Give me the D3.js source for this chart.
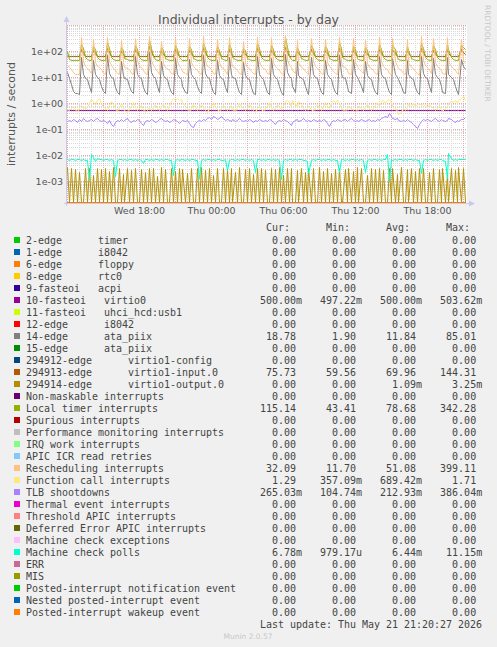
<!DOCTYPE html>
<html><head><meta charset="utf-8">
<script src="https://cdn.jsdelivr.net/npm/d3@7"></script>
<style>body{margin:0;background:#f0f0f0}svg{display:block}</style>
</head><body><svg id="c" width="497" height="647"></svg>
<script>
// ---------------- DATA ----------------
const startTime = new Date(2026, 4, 20, 12, 0, 0);   // Wed 12:00
const endTime = new Date(2026, 4, 21, 21, 20, 0);    // Thu 21:20
const stepMinutes = 10;

const xTickLabels = ["Wed 18:00", "Thu 00:00", "Thu 06:00", "Thu 12:00", "Thu 18:00"];
const xTickTimes = [new Date(2026,4,20,18), new Date(2026,4,21,0), new Date(2026,4,21,6), new Date(2026,4,21,12), new Date(2026,4,21,18)];
const yTickValues = [100, 10, 1, 0.1, 0.01, 0.001];
const yTickLabels = ["1e+02", "1e+01", "1e+00", "1e-01", "1e-02", "1e-03"];

const seriesNames = [
 "2-edge      timer","1-edge      i8042","6-edge      floppy","8-edge      rtc0","9-fasteoi   acpi",
 "10-fasteoi   virtio0","11-fasteoi   uhci_hcd:usb1","12-edge      i8042","14-edge      ata_piix","15-edge      ata_piix",
 "294912-edge      virtio1-config","294913-edge      virtio1-input.0","294914-edge      virtio1-output.0",
 "Non-maskable interrupts","Local timer interrupts","Spurious interrupts","Performance monitoring interrupts",
 "IRQ work interrupts","APIC ICR read retries","Rescheduling interrupts","Function call interrupts","TLB shootdowns",
 "Thermal event interrupts","Threshold APIC interrupts","Deferred Error APIC interrupts","Machine check exceptions",
 "Machine check polls","ERR","MIS","Posted-interrupt notification event","Nested posted-interrupt event","Posted-interrupt wakeup event"];
const seriesColors = ["#00CC00","#0066B3","#FF8000","#FFCC00","#330099","#990099","#CCFF00","#FF0000","#808080","#008F00",
 "#00487D","#B35A00","#B38F00","#6B006B","#8FB300","#B30000","#BEBEBE","#80FF80","#80C9FF","#FFC080","#FFE680","#AA80FF",
 "#EE00CC","#FF8080","#666600","#FFBFFF","#00FFCC","#CC6699","#999900","#00CC00","#0066B3","#FF8000"];
const curVals = ["0.00","0.00","0.00","0.00","0.00","500.00m","0.00","0.00","18.78","0.00","0.00","75.73","0.00","0.00","115.14","0.00","0.00","0.00","0.00","32.09","1.29","265.03m","0.00","0.00","0.00","0.00","6.78m","0.00","0.00","0.00","0.00","0.00"];
const minVals = ["0.00","0.00","0.00","0.00","0.00","497.22m","0.00","0.00","1.90","0.00","0.00","59.56","0.00","0.00","43.41","0.00","0.00","0.00","0.00","11.70","357.09m","104.74m","0.00","0.00","0.00","0.00","979.17u","0.00","0.00","0.00","0.00","0.00"];
const avgVals = ["0.00","0.00","0.00","0.00","0.00","500.00m","0.00","0.00","11.84","0.00","0.00","69.96","1.09m","0.00","78.68","0.00","0.00","0.00","0.00","51.08","689.42m","212.93m","0.00","0.00","0.00","0.00","6.44m","0.00","0.00","0.00","0.00","0.00"];
const maxVals = ["0.00","0.00","0.00","0.00","0.00","503.62m","0.00","0.00","85.01","0.00","0.00","144.31","3.25m","0.00","342.28","0.00","0.00","0.00","0.00","399.11","1.71","386.04m","0.00","0.00","0.00","0.00","11.15m","0.00","0.00","0.00","0.00","0.00"];

// series samples, one every 10 minutes from Wed 12:00 (200 samples)
const zeroSeries = [
 0,0,0,0,0,0,0,0,0,0,0,0,0,0,0,0,0,0,0,0, 0,0,0,0,0,0,0,0,0,0,0,0,0,0,0,0,0,0,0,0,
 0,0,0,0,0,0,0,0,0,0,0,0,0,0,0,0,0,0,0,0, 0,0,0,0,0,0,0,0,0,0,0,0,0,0,0,0,0,0,0,0,
 0,0,0,0,0,0,0,0,0,0,0,0,0,0,0,0,0,0,0,0, 0,0,0,0,0,0,0,0,0,0,0,0,0,0,0,0,0,0,0,0,
 0,0,0,0,0,0,0,0,0,0,0,0,0,0,0,0,0,0,0,0, 0,0,0,0,0,0,0,0,0,0,0,0,0,0,0,0,0,0,0,0,
 0,0,0,0,0,0,0,0,0,0,0,0,0,0,0,0,0,0,0,0, 0,0,0,0,0,0,0,0,0,0,0,0,0,0,0,0,0,0,0,0];
const virtio0Vals = [
 0.5,0.5,0.5,0.5,0.5,0.5,0.5,0.5,0.5,0.5,0.5,0.5,0.5,0.5,0.5,0.5,0.5,0.5,0.5,0.5,
 0.5,0.5,0.5,0.5,0.5,0.5,0.5,0.5,0.5,0.5,0.5,0.5,0.5,0.5,0.5,0.5,0.5,0.5,0.5,0.5,
 0.5,0.5,0.5,0.5,0.5,0.4972,0.5,0.5,0.5,0.5,0.5,0.5,0.5,0.5,0.5,0.5,0.5,0.5,0.5,0.5,
 0.5,0.5,0.5,0.5,0.5,0.5,0.5,0.5,0.5,0.5,0.5,0.5,0.5,0.5,0.5,0.5,0.5,0.5,0.5,0.5,
 0.5,0.5,0.5,0.5,0.5,0.5,0.5,0.5,0.5,0.5,0.5,0.5,0.5,0.5,0.5,0.5,0.5,0.5,0.5,0.5,
 0.5,0.5,0.5,0.5,0.5,0.5,0.5,0.5,0.5,0.5,0.5,0.5,0.5,0.5,0.5,0.5,0.5,0.5,0.5,0.5,
 0.5,0.5,0.5,0.5,0.5,0.5,0.5,0.5,0.5,0.5,0.5,0.5,0.5036,0.5,0.5,0.5,0.5,0.5,0.5,0.5,
 0.5,0.5,0.5,0.5,0.5,0.5,0.5,0.5,0.5,0.5,0.5,0.5,0.5,0.5,0.5,0.5,0.5,0.5,0.5,0.5,
 0.5,0.5,0.5,0.5,0.5,0.5,0.5,0.5,0.5,0.5,0.5,0.5,0.5,0.5,0.5,0.5,0.5,0.5,0.5,0.5,
 0.5,0.5,0.5,0.5,0.5,0.5,0.5,0.5,0.5,0.5,0.5,0.5,0.5,0.5,0.5,0.5,0.5,0.5,0.5,0.5];
const ataPiixVals = [
 15,9,5,2.8,2.4,2.3,2.2,55,13,9,8,4.2,2.6,45,12,9.5,8.2,4.5,2.7,2.3,
 70,14,9.8,8.4,4,2.6,2.2,40,11,9,8.1,4.4,2.7,2.3,60,13,9.6,8.5,4.1,2.5,
 2.2,85.01,15,10,8.6,4.3,2.6,38,11,8.8,8,4,2.5,2.2,52,12,9.4,8.3,4.2,2.6,
 2.3,48,12,9.2,8.2,4.4,2.7,2.3,65,14,9.7,8.5,4.5,2.6,2.2,42,11,9.1,8,4.1,
 2.5,58,13,9.5,8.4,4.3,2.6,2.1,36,11,8.9,8,4,2.4,2.1,62,13,9.6,8.3,4.4,
 2.6,2.2,50,12,9.3,8.2,4.2,2.5,1.9,75,15,10,8.6,4.5,2.6,40,11,9,8.1,4.2,
 2.5,2.2,55,13,9.5,8.4,4.3,2.6,2.2,45,12,9.2,8.2,4.1,2.5,2.1,68,14,9.8,8.5,
 4.4,2.7,2.3,47,12,9.3,8.2,4.2,2.5,38,11,8.9,8,4.1,2.5,2.2,60,13,9.5,8.4,
 4.3,2.6,2.2,52,12,9.4,8.3,4.2,2.6,2.3,44,12,9.1,8.1,4.1,2.5,2.1,63,14,9.7,
 8.5,4.4,2.6,50,12,9.3,8.2,4.2,2.6,2.3,57,13,9.5,8.3,4.3,2.6,2.2,48,25,18.78];
const virtioInputVals = [
 63,60.2,60,59.8,60.1,59.9,60,115,82,62,60.3,60,59.8,100,78,61.5,60.2,60,59.9,59.7,
 130,88,63,60.4,60,59.8,60,95,75,61,60.2,60,59.9,59.6,110,80,62,60.3,60,59.8,
 59.7,144.31,92,64,60.5,60.1,59.9,98,76,61.4,60.2,60,59.8,59.56,112,81,62,60.3,60.1,59.9,
 59.8,105,79,61.8,60.2,60,59.8,59.7,125,86,63,60.4,60.1,59.9,59.8,100,77,61.5,60.2,60,
 59.8,115,82,62.3,60.3,60,59.9,59.7,96,75,61.2,60.2,60,59.8,59.6,120,84,62.5,60.4,60.1,
 59.9,59.7,108,80,62,60.3,60,59.8,59.7,135,90,64,60.6,60.2,59.9,99,77,61.4,60.2,60,
 59.8,59.6,112,81,62,60.3,60.1,59.9,59.7,104,78,61.6,60.2,60,59.8,59.6,128,87,63,60.5,
 60.1,59.9,59.7,106,79,61.8,60.2,60,59.8,97,76,61.3,60.2,60,59.8,59.6,118,83,62.4,60.3,
 60.1,59.9,59.7,110,80,62,60.3,60,59.8,59.7,102,78,61.5,60.2,60,59.8,59.6,122,85,62.6,
 60.4,60.1,59.9,108,80,62,60.3,60,59.8,59.7,114,82,62.2,60.3,60,59.8,59.7,111,90,75.73];
const virtioOutputMilli = [
 3.2,0,3.0,0,2.8,0,2.2,0,0,3.1,0,2.9,0,1.6,0,3.1,0,2.7,0,3.0,
 0,2.4,0,3.25,0,0,2.9,0,1.8,0,3.0,0,2.6,0,3.1,0,0,2.8,0,2.2,
 0,3.0,0,2.9,0,1.5,0,3.2,0,2.7,0,0,3.0,0,2.4,0,3.1,0,2.8,0,
 1.9,0,3.0,0,0,2.9,0,3.2,0,2.5,0,3.0,0,1.7,0,2.9,0,0,3.1,0,
 2.8,0,3.0,0,2.2,0,3.2,0,0,2.7,0,3.0,0,1.8,0,2.9,0,3.1,0,2.5,
 0,0,3.0,0,2.8,0,3.2,0,1.6,0,2.9,0,3.0,0,0,2.6,0,3.1,0,2.2,
 0,3.0,0,2.9,0,0,3.2,0,2.4,0,3.0,0,1.9,0,2.8,0,3.1,0,0,2.7,
 0,3.0,0,2.3,0,3.2,0,2.9,0,0,1.7,0,3.0,0,2.8,0,3.1,0,2.5,0,
 0,2.9,0,3.0,0,1.8,0,3.2,0,0,2.7,0,3.0,0,2.4,0,3.1,0,2.9,0,
 0,2.2,0,3.0,0,0,2.8,0,3.1,0,1.9,0,3.0,0,2.6,0,3.2,0,2.9,0];
const localTimerVals = [
 95,48,45,44,44.2,43.8,44,180,120,56,46,44.5,44,150,110,54,46,44.3,44,43.6,
 210,125,58,47,44.5,44,43.8,140,105,52,46,44.2,44,43.7,170,118,55,46,44.3,44,
 43.8,260,130,60,47,44.6,44,135,100,51,45.5,44.2,43.9,43.5,160,115,54,46,44.4,44,
 43.7,155,112,53,46,44.3,43.9,43.6,200,122,57,47,44.5,44,43.8,145,108,52,46,44.2,
 43.9,175,118,55,46,44.4,44,43.6,130,100,51,45.5,44.2,43.9,43.5,190,120,56,46.5,44.5,
 44,43.7,165,115,54,46,44.3,44,43.41,342.28,140,62,48,44.8,44,140,104,52,46,44.2,
 44,43.6,170,117,55,46,44.4,44,43.7,150,110,53,46,44.3,44,43.6,205,124,57,47,
 44.6,44,43.7,155,112,53,46,44.3,43.9,135,100,51,45.5,44.2,43.9,43.5,180,119,55,46.5,
 44.5,44,43.7,165,114,54,46,44.3,44,43.6,150,108,52,46,44.2,43.9,43.5,195,121,56,
 47,44.5,44,160,113,54,46,44.3,44,43.7,175,116,55,46,44.3,44,43.7,170,140,115.14];
const reschedVals = [
 27,24,20,15,13,12.4,12.1,330,38,25,22,18,13.5,280,36,26,23,19,14,12.3,
 340,40,27,22,18,13.8,12.5,250,35,24,22,19,14,12.2,300,42,26,23,18,13.6,
 12.4,370,45,27,21,16,12.8,230,33,24,22,18,14,12.1,310,38,25,22,17,13.2,
 12.3,290,37,25,21,18,13.5,12.2,350,41,26,23,19,14,12.4,270,36,24,21,17,
 13,320,39,25,22,18,13.6,12.3,240,34,24,21,17,13.4,12.2,330,40,26,22,19,
 14,12.5,300,37,25,22,18,13.5,12.4,399.11,46,28,23,18,13.1,260,35,24,21,17,
 13.4,12.2,310,38,25,22,18,13.7,12.3,280,36,25,22,17,13.3,12.1,340,41,26,23,
 18,14,12.4,290,37,25,22,17,13.2,250,34,24,21,18,13.5,12.2,330,39,26,22,
 19,14,12.3,300,38,25,22,18,13.6,12.4,270,36,24,21,17,13.3,11.7,350,42,27,
 23,18,13.4,290,37,25,22,18,13.8,12.5,320,39,25,22,18,13.5,12.2,280,45,32.09];
const funcCallVals = [
 0.58,0.5,0.62,0.75,0.55,0.45,0.65,0.8,0.6,0.62,0.7,0.95,1.4,1.1,0.8,1.2,1.5,0.95,0.7,0.6,
 0.52,0.8,1.15,0.85,0.6,0.48,0.7,0.95,0.65,0.52,0.45,0.55,0.75,1.0,0.7,0.52,0.6,0.8,0.55,0.45,
 0.5,0.65,0.52,0.7,0.85,0.6,0.52,0.72,0.9,0.6,0.52,0.75,1.1,1.45,1.3,1.55,1.2,1.35,1.0,0.75,
 0.6,0.48,0.62,0.85,0.68,0.52,0.6,0.9,0.7,0.52,0.45,0.6,0.75,1.0,0.68,0.55,0.48,0.6,0.8,0.62,
 0.52,0.6,0.78,0.56,0.47,0.68,0.92,0.75,0.6,0.5,0.64,0.85,0.68,0.52,0.44,0.6,0.72,0.55,0.47,0.6,
 0.75,1.0,0.68,0.52,0.64,0.9,0.68,0.55,0.75,1.1,1.3,1.0,0.75,1.2,0.92,0.68,1.1,0.85,0.64,0.52,
 0.6,0.75,0.56,0.47,0.68,0.85,0.6,0.52,0.72,1.0,0.75,0.6,0.92,1.2,1.05,1.3,0.92,0.68,0.55,0.47,
 0.6,0.75,0.64,0.52,0.44,0.55,0.72,0.6,0.52,0.68,0.85,0.64,0.52,0.6,0.8,1.0,0.75,1.1,1.3,0.92,
 1.2,1.4,1.0,0.75,0.6,0.47,0.357,0.44,0.6,0.52,0.68,0.85,0.75,0.92,0.72,0.85,0.92,0.8,0.88,0.75,
 0.68,0.85,0.75,0.64,0.52,0.6,0.72,0.56,0.47,0.6,0.75,0.92,1.1,1.0,1.3,0.95,1.2,1.45,1.71,1.29];
const tlbVals = [
 0.19,0.22,0.2,0.24,0.21,0.18,0.23,0.2,0.25,0.22,0.19,0.21,0.24,0.2,0.23,0.26,0.21,0.19,0.22,0.2,
 0.17,0.21,0.15,0.13,0.18,0.21,0.2,0.23,0.19,0.22,0.25,0.2,0.18,0.22,0.2,0.24,0.21,0.16,0.14,0.19,
 0.22,0.2,0.24,0.21,0.18,0.2,0.23,0.26,0.22,0.19,0.21,0.18,0.2,0.23,0.21,0.19,0.17,0.2,0.22,0.19,
 0.21,0.17,0.13,0.11,0.16,0.2,0.22,0.19,0.24,0.21,0.25,0.28,0.24,0.3,0.27,0.23,0.26,0.29,0.25,0.22,
 0.24,0.21,0.19,0.23,0.2,0.22,0.25,0.21,0.19,0.22,0.2,0.24,0.21,0.18,0.22,0.2,0.23,0.21,0.19,0.22,
 0.2,0.24,0.21,0.18,0.15,0.19,0.22,0.2,0.23,0.21,0.19,0.16,0.14,0.18,0.21,0.23,0.2,0.22,0.25,0.21,
 0.19,0.22,0.2,0.24,0.21,0.19,0.22,0.2,0.23,0.21,0.16,0.13,0.18,0.22,0.2,0.24,0.22,0.19,0.21,0.23,
 0.2,0.22,0.25,0.21,0.19,0.22,0.2,0.23,0.21,0.19,0.22,0.24,0.2,0.22,0.19,0.23,0.21,0.25,0.28,0.3,
 0.27,0.386,0.29,0.26,0.23,0.25,0.21,0.19,0.22,0.2,0.23,0.21,0.18,0.15,0.12,0.105,0.15,0.2,0.23,0.21,
 0.24,0.22,0.2,0.23,0.25,0.22,0.2,0.24,0.21,0.19,0.22,0.25,0.23,0.2,0.18,0.22,0.2,0.24,0.23,0.265];
const mcPollVals = [
 0.0066,0.0064,0.0067,0.0065,0.0063,0.0066,0.0068,0.0064,0.0065,0.0062,0.0060,0.0011,0.0105,0.0080,0.0058,0.0072,0.0066,0.0069,0.0064,0.0067,
 0.0065,0.0063,0.0066,0.0061,0.00155,0.0064,0.0067,0.0065,0.0063,0.0066,0.0064,0.0067,0.0065,0.0062,0.0066,0.0064,0.0067,0.0063,0.0049,0.0065,
 0.0067,0.0064,0.0066,0.0063,0.0065,0.0068,0.0064,0.0066,0.0063,0.0065,0.0067,0.0064,0.0062,0.0017,0.0063,0.0066,0.0064,0.0067,0.0065,0.0063,
 0.0066,0.0064,0.0067,0.0065,0.0063,0.0061,0.0012,0.0064,0.0066,0.0063,0.0065,0.0067,0.0064,0.0066,0.0063,0.0065,0.0067,0.0064,0.0062,0.0066,
 0.0026,0.0064,0.0067,0.0065,0.0063,0.0066,0.0064,0.0067,0.0065,0.0063,0.0066,0.0064,0.0067,0.0062,0.0022,0.0065,0.0067,0.0064,0.0066,0.0063,
 0.0065,0.0067,0.0064,0.0066,0.0063,0.0065,0.0061,0.0011,0.0064,0.0066,0.0063,0.0065,0.0067,0.0064,0.0066,0.0063,0.0065,0.0067,0.0064,0.0062,
 0.0058,0.0020,0.0064,0.0066,0.0063,0.0065,0.0067,0.0064,0.0066,0.0063,0.0065,0.0067,0.0064,0.0066,0.0063,0.0060,0.0022,0.0065,0.0067,0.0064,
 0.0066,0.0063,0.0065,0.0067,0.0064,0.0066,0.0063,0.0065,0.0061,0.0022,0.0064,0.0066,0.0063,0.0065,0.0067,0.0064,0.0066,0.0063,0.0065,0.0067,
 0.0100,0.00098,0.0070,0.0064,0.0066,0.0063,0.0065,0.0067,0.0064,0.0066,0.0063,0.0065,0.0067,0.0064,0.0066,0.0063,0.0060,0.0020,0.0064,0.0066,
 0.0063,0.0065,0.0067,0.0064,0.0066,0.0063,0.0065,0.0067,0.0064,0.0058,0.0013,0.01115,0.0072,0.0064,0.0066,0.0063,0.0065,0.0067,0.0066,0.00678];

// ---------------- BUILD ----------------
const virtioOutputVals = virtioOutputMilli.map(v => v / 1000);
const seriesValues = [zeroSeries,zeroSeries,zeroSeries,zeroSeries,zeroSeries,virtio0Vals,zeroSeries,zeroSeries,ataPiixVals,zeroSeries,
 zeroSeries,virtioInputVals,virtioOutputVals,zeroSeries,localTimerVals,zeroSeries,zeroSeries,zeroSeries,zeroSeries,reschedVals,
 funcCallVals,tlbVals,zeroSeries,zeroSeries,zeroSeries,zeroSeries,mcPollVals,zeroSeries,zeroSeries,zeroSeries,zeroSeries,zeroSeries];

const svg = d3.select("#c");
const L = 67, R = 467, T = 25, B = 203;
const yMin = Math.pow(10, -3 - (B - 181) / 26);
const x = d3.scaleTime().domain([startTime, endTime]).range([L, R]);
const y = d3.scaleLog().domain([yMin, 1000]).range([B, T]).clamp(true);
const tAt = i => new Date(startTime.getTime() + i * stepMinutes * 60000);
const snap = v => Math.floor(v) + 0.5;   // rrdtool aligns line vertices to pixel centres

svg.append("rect").attr("x", 0).attr("y", 0).attr("width", 497).attr("height", 647).attr("fill", "#f0f0f0");
svg.append("rect").attr("x", L).attr("y", T).attr("width", R - L).attr("height", B - T).attr("fill", "#ffffff");

// grid
const grid = svg.append("g");
const minorCol = "#d8d8d8", majorCol = "#e4a8a8";
for (let k = -4; k <= 3; k++) {
  for (let m = 1; m <= 9; m++) {
    const v = m * Math.pow(10, k);
    if (v < yMin || v > 1000) continue;
    const yy = Math.round(y(v)) + 0.5;
    grid.append("line").attr("x1", L).attr("x2", R).attr("y1", yy).attr("y2", yy)
      .attr("stroke", m === 1 ? majorCol : minorCol).attr("stroke-width", 1).attr("stroke-dasharray", "1,1");
    if (k === 3) break;
  }
}
d3.timeHour.every(1).range(startTime, endTime).forEach(t => {
  const xx = Math.round(x(t)) + 0.5;
  const major = t.getHours() % 3 === 0;
  grid.append("line").attr("x1", xx).attr("x2", xx).attr("y1", T).attr("y2", B)
    .attr("stroke", major ? majorCol : minorCol).attr("stroke-width", 1).attr("stroke-dasharray", "1,1");
});

// series
svg.append("clipPath").attr("id", "pc").append("rect")
  .attr("x", L).attr("y", T - 1).attr("width", R - L + 1).attr("height", B - T + 2);
const line = d3.line().x((d, i) => snap(x(tAt(i)))).y(d => snap(y(d > 0 ? d : yMin) - 0.001));
const lines = svg.append("g").attr("clip-path", "url(#pc)");
seriesValues.forEach((vals, si) => {
  lines.append("path").attr("d", line(vals)).attr("fill", "none")
    .attr("stroke", seriesColors[si]).attr("stroke-width", 1);
});

// axes lines + arrows
const axCol = "#c8c8f0";
svg.append("line").attr("x1", L - 0.5).attr("x2", L - 0.5).attr("y1", B + 3).attr("y2", T - 4).attr("stroke", axCol);
svg.append("path").attr("d", `M${L - 3.5},${T - 3} L${L + 2.5},${T - 3} L${L - 0.5},${T - 9} Z`).attr("fill", axCol);
svg.append("line").attr("x1", L - 3).attr("x2", R + 3).attr("y1", B + 0.5).attr("y2", B + 0.5).attr("stroke", axCol);
svg.append("path").attr("d", `M${R + 2},${B - 2.5} L${R + 2},${B + 3.5} L${R + 8},${B + 0.5} Z`).attr("fill", axCol);
// the last zero-valued series lies on the bottom edge, above the axis line
svg.append("g").attr("clip-path", "url(#pc)").append("path").attr("d", line(seriesValues[31]))
  .attr("fill", "none").attr("stroke", seriesColors[31]).attr("stroke-width", 1);

// tick labels
const yAxis = d3.axisLeft(y).tickValues(yTickValues).tickFormat((d, i) => yTickLabels[i]).tickSize(0).tickPadding(0);
const gy = svg.append("g").attr("transform", `translate(${L - 4},0)`).call(yAxis);
gy.select(".domain").remove();
gy.selectAll("text").attr("font-family", "DejaVu Sans").attr("font-size", "9.5px").attr("fill", "#555");

const xAxis = d3.axisBottom(x).tickValues(xTickTimes).tickFormat((d, i) => xTickLabels[i]).tickSize(0).tickPadding(0);
const gx = svg.append("g").attr("transform", `translate(0,${B + 4})`).call(xAxis);
gx.select(".domain").remove();
gx.selectAll("text").attr("font-family", "DejaVu Sans").attr("font-size", "9.5px").attr("fill", "#555");

// title and labels
svg.append("text").attr("x", 248.5).attr("y", 23.5).attr("text-anchor", "middle")
  .attr("font-family", "DejaVu Sans").attr("font-size", "12.5px").attr("fill", "#555")
  .text("Individual interrupts - by day");
svg.append("text").attr("transform", "translate(15,114) rotate(-90)").attr("text-anchor", "middle")
  .attr("font-family", "DejaVu Sans").attr("font-size", "11px").attr("fill", "#555")
  .text("interrupts / second");
svg.append("text").attr("transform", "translate(484.5,5) rotate(90)").attr("text-anchor", "start")
  .attr("font-family", "DejaVu Sans").attr("font-size", "7.5px").attr("fill", "#c8c8c8")
  .text("RRDTOOL / TOBI OETIKER");

// legend
const mono = "DejaVu Sans Mono";
const cw = 6, lx = 26;
const fmt = (s, w) => {
  const last = s[s.length - 1];
  const hasSuf = /[a-zA-Z]/.test(last);
  const num = hasSuf ? s.slice(0, -1) : s;
  return num.padStart(w) + (hasSuf ? last : " ");
};
const leg = svg.append("g").attr("font-family", mono).attr("font-size", "9.97px").attr("fill", "#444");
leg.append("text").attr("x", lx).attr("y", 230.5).style("white-space", "pre")
  .text("Cur:".padStart(44) + "Min:".padStart(10) + "Avg:".padStart(10) + "Max:".padStart(10));
seriesNames.forEach((name, i) => {
  const cy = 240 + 12 * i;
  leg.append("rect").attr("x", 14).attr("y", cy - 3).attr("width", 6).attr("height", 6).attr("fill", seriesColors[i]);
  leg.append("text").attr("x", lx).attr("y", cy + 3.5).style("white-space", "pre")
    .text(name.padEnd(35) + fmt(curVals[i], 10) + fmt(minVals[i], 9) + fmt(avgVals[i], 9) + fmt(maxVals[i], 9));
});
leg.append("text").attr("x", lx + 39 * cw).attr("y", 240 + 12 * 32 + 3.5).style("white-space", "pre")
  .text("Last update: Thu May 21 21:20:27 2026");
svg.append("text").attr("x", 248).attr("y", 639).attr("text-anchor", "middle")
  .attr("font-family", "DejaVu Sans").attr("font-size", "7.5px").attr("fill", "#c8c8c8").text("Munin 2.0.57");
</script></body></html>
